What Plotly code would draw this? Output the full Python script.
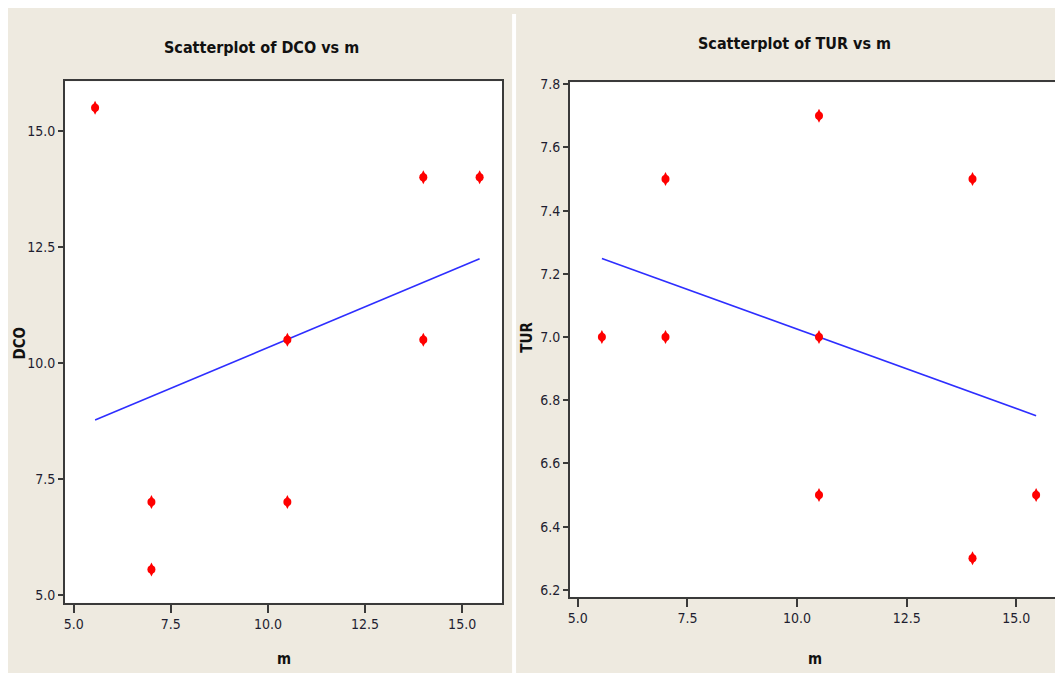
import numpy as np
import plotly.graph_objects as go

# ---- data ----
m_dco = [5.55, 7.0, 7.0, 10.5, 10.5, 14.0, 14.0, 15.45]
dco = [15.5, 7.0, 5.55, 10.5, 7.0, 14.0, 10.5, 14.0]
m_tur = [5.55, 7.0, 7.0, 10.5, 10.5, 10.5, 14.0, 14.0, 15.45]
tur = [7.0, 7.5, 7.0, 7.7, 7.0, 6.5, 7.5, 6.3, 6.5]
m_ticks = [5.0, 7.5, 10.0, 12.5, 15.0]
dco_ticks = [5.0, 7.5, 10.0, 12.5, 15.0]
tur_ticks = [6.2, 6.4, 6.6, 6.8, 7.0, 7.2, 7.4, 7.6, 7.8]

W, H = 1063, 673
OFF = 8  # page body margin


def px(x):
    return (x - OFF) / W


def py(y):
    return 1 - (y - OFF) / H


BEIGE = "#EEEAE0"
AXC = "#3a3a3a"
NARROW = "Liberation Sans Narrow, DejaVu Sans Condensed, Arial Narrow, sans-serif"
TICKFONT = dict(family=NARROW, size=14, color="#1e1e30")


def fit_line(x, y):
    b, a = np.polyfit(x, y, 1)
    xs = [min(x), max(x)]
    return xs, [a + b * v for v in xs]


fig = go.Figure()
for (mx, my, xa, ya) in [(m_dco, dco, "x", "y"), (m_tur, tur, "x2", "y2")]:
    lx, ly = fit_line(mx, my)
    fig.add_trace(go.Scatter(x=lx, y=ly, mode="lines", xaxis=xa, yaxis=ya,
                             line=dict(color="#2e2eff", width=1.6), showlegend=False,
                             hoverinfo="skip"))
    fig.add_trace(go.Scatter(x=mx, y=my, mode="markers", xaxis=xa, yaxis=ya,
                             marker=dict(symbol="diamond-tall", size=10, color="#ff0000",
                                         line=dict(width=0)), showlegend=False))
    fig.add_trace(go.Scatter(x=mx, y=my, mode="markers", xaxis=xa, yaxis=ya,
                             marker=dict(symbol="circle", size=8, color="#ff0000",
                                         line=dict(width=0)), showlegend=False,
                             hoverinfo="skip"))

common = dict(showgrid=False, zeroline=False, showline=True, linecolor=AXC, linewidth=1.5,
              ticks="outside", tickcolor=AXC, tickwidth=1.5, tickfont=TICKFONT,
              tickformat=".1f")

fig.update_layout(
    width=W, height=H,
    margin=dict(l=0, r=0, t=0, b=0),
    paper_bgcolor=BEIGE, plot_bgcolor="white",
    xaxis=dict(domain=[px(63), px(502)], range=[4.77, 16.03], tickvals=m_ticks,
               ticklen=8, mirror=True, anchor="y", **common),
    yaxis=dict(domain=[py(603), py(76)], range=[4.83, 16.07], tickvals=dco_ticks,
               ticklen=5, mirror=True, anchor="x", **common),
    xaxis2=dict(domain=[px(570), 1.0], range=[4.82, 16.20], tickvals=m_ticks,
                ticklen=8, mirror=True, anchor="y2", **common),
    yaxis2=dict(domain=[py(597), py(77)], range=[6.178, 7.806], tickvals=tur_ticks,
                ticklen=5, mirror=True, anchor="x2", **common),
    shapes=[
        dict(type="rect", xref="paper", yref="paper", x0=px(512), x1=px(516), y0=0, y1=1,
             fillcolor="white", line=dict(width=0)),
    ],
)

title_font = dict(family=NARROW, size=16, color="#111111")
label_font = dict(family=NARROW, size=15, color="#111111")
ann = [
    dict(text="<b>Scatterplot of DCO vs m</b>", x=px(260), y=py(42), font=title_font),
    dict(text="<b>Scatterplot of TUR vs m</b>", x=px(795), y=py(38), font=title_font),
    dict(text="<b>m</b>", x=px(283), y=py(660), font=label_font),
    dict(text="<b>m</b>", x=px(816), y=py(660), font=label_font),
    dict(text="<b>DCO</b>", x=px(18), y=py(340), font=label_font, textangle=-90),
    dict(text="<b>TUR</b>", x=px(527), y=py(335), font=label_font, textangle=-90),
]
for a in ann:
    fig.add_annotation(xref="paper", yref="paper", showarrow=False,
                       xanchor="center", yanchor="middle", **a)

fig.write_html("out.html")
